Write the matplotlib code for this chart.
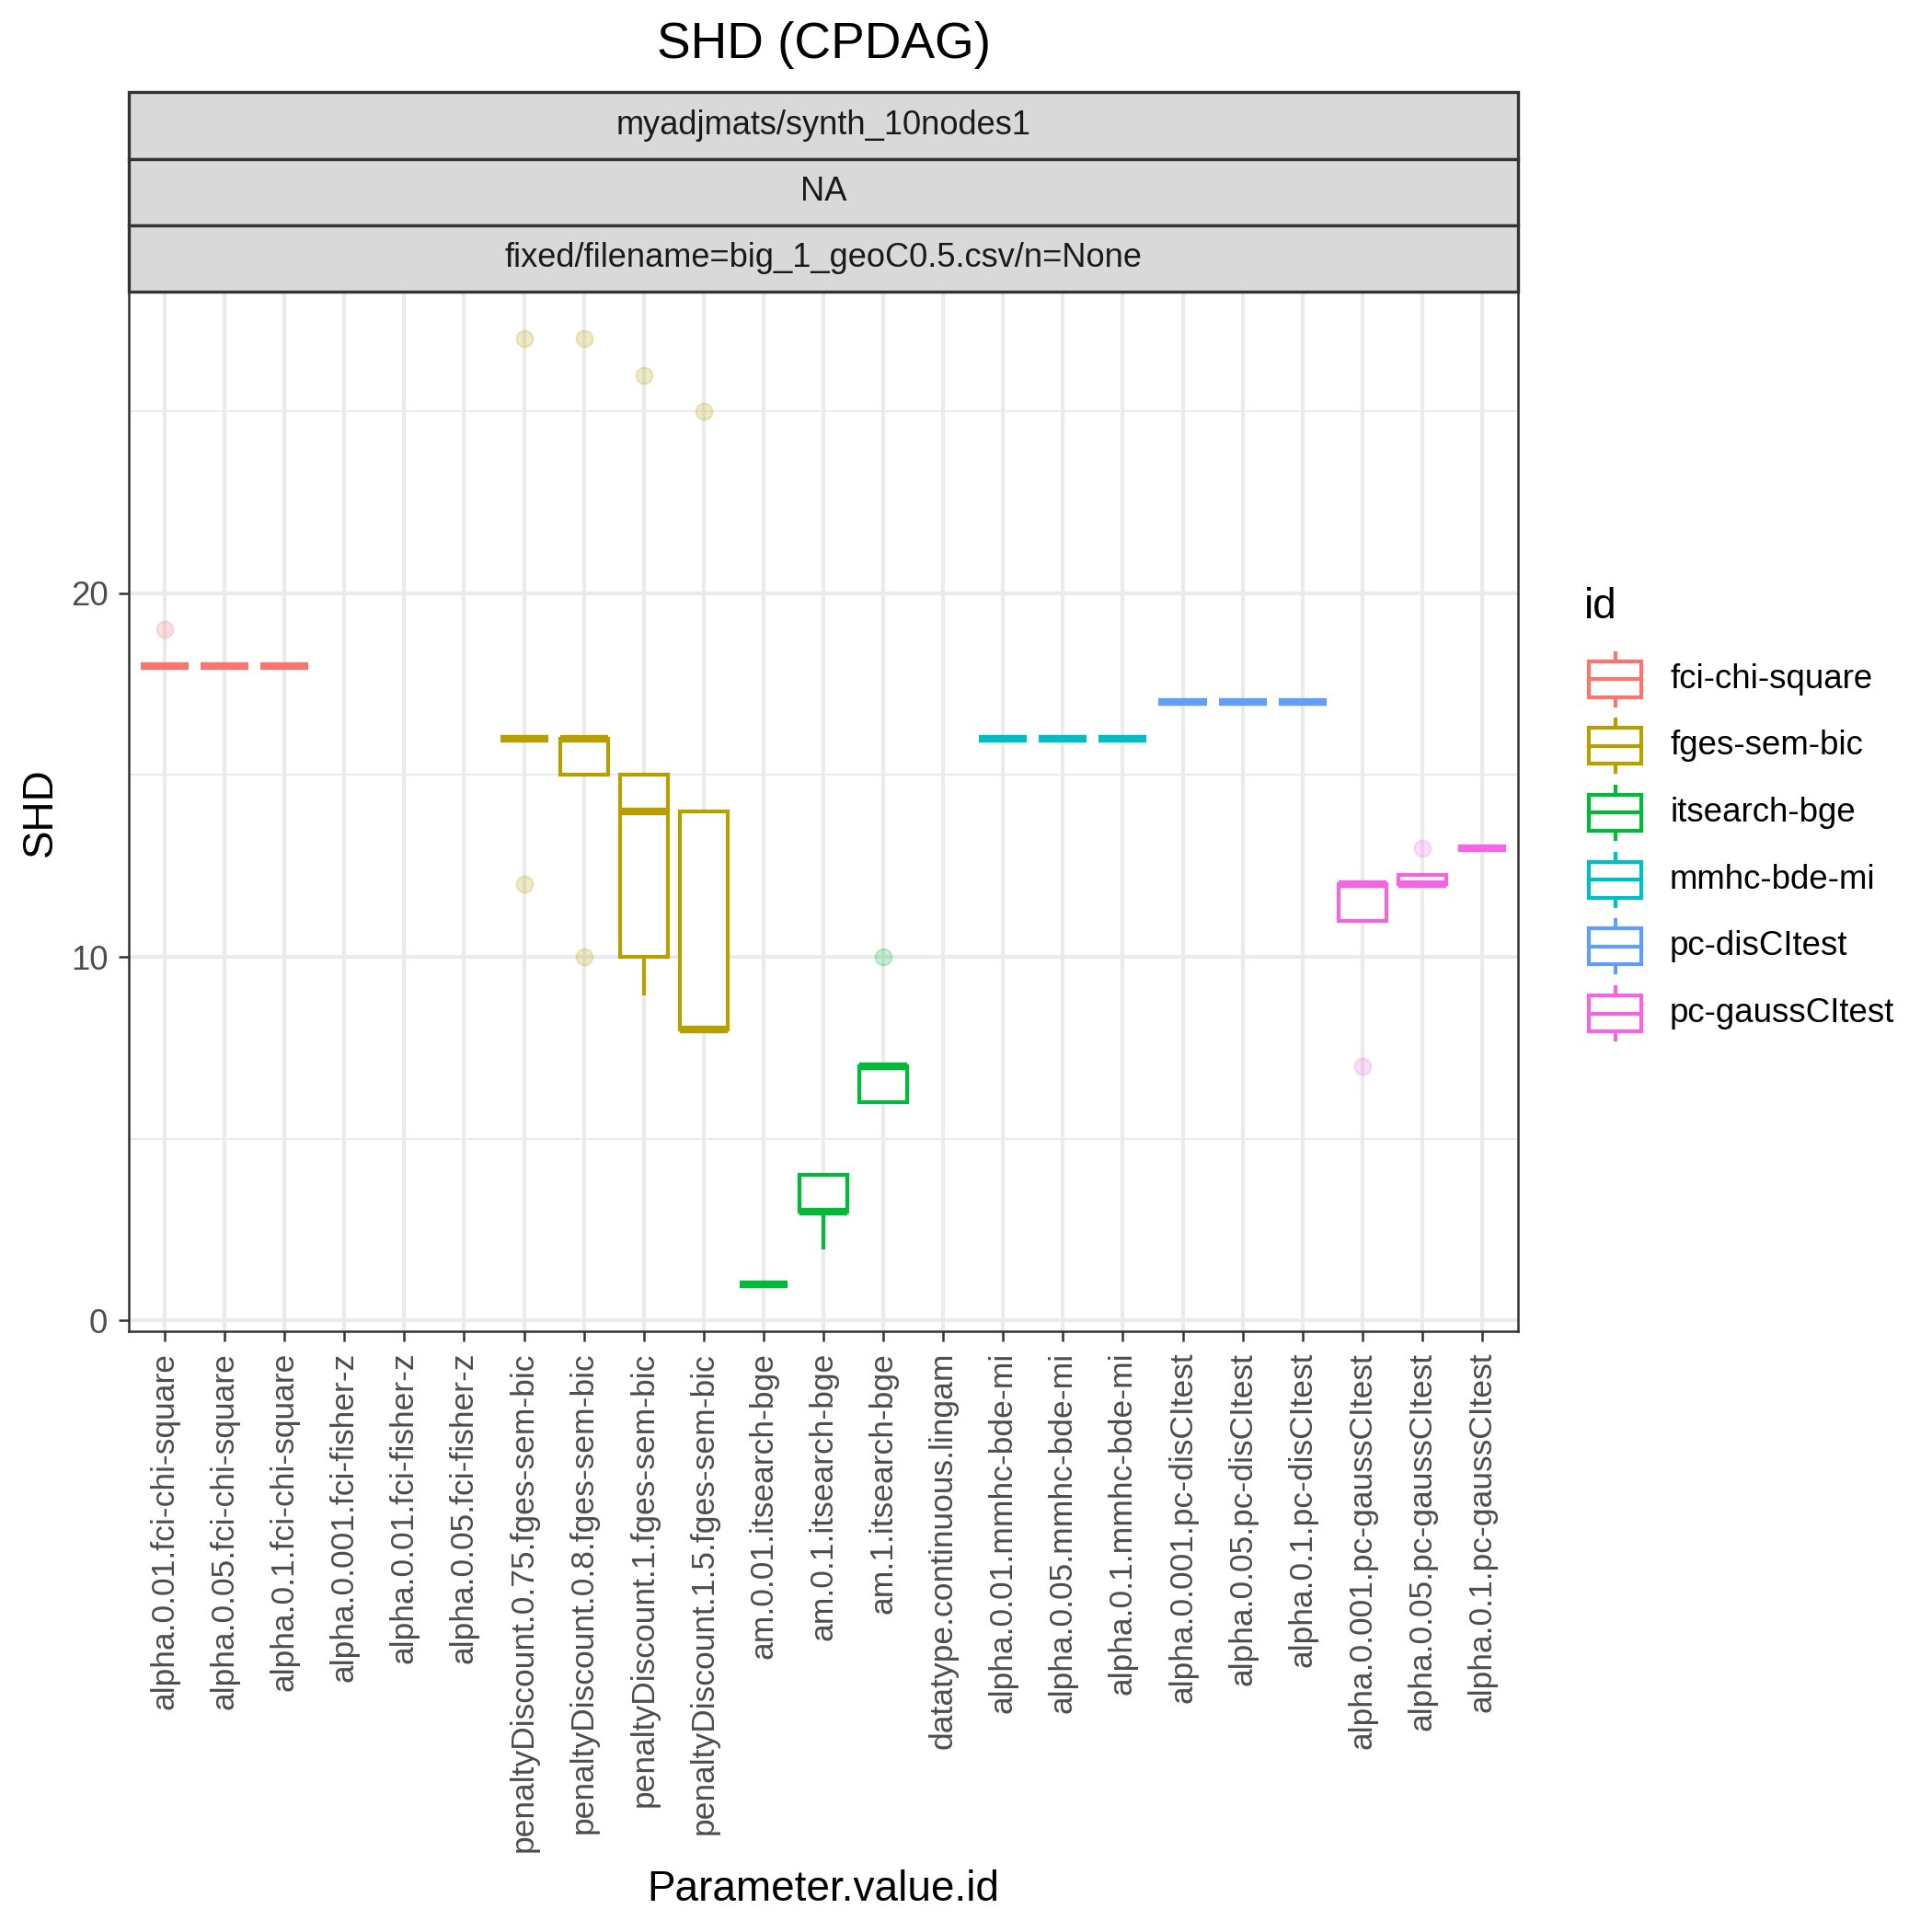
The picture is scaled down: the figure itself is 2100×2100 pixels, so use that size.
import matplotlib
matplotlib.use("Agg")
from matplotlib import pyplot as plt
from matplotlib.patches import Rectangle

plt.rcParams["font.family"] = ["Liberation Sans", "DejaVu Sans"]

# x categories (Parameter.value.id) and the algorithm id of each
categories = [
    "alpha.0.01.fci-chi-square", "alpha.0.05.fci-chi-square", "alpha.0.1.fci-chi-square",
    "alpha.0.001.fci-fisher-z", "alpha.0.01.fci-fisher-z", "alpha.0.05.fci-fisher-z",
    "penaltyDiscount.0.75.fges-sem-bic", "penaltyDiscount.0.8.fges-sem-bic",
    "penaltyDiscount.1.fges-sem-bic", "penaltyDiscount.1.5.fges-sem-bic",
    "am.0.01.itsearch-bge", "am.0.1.itsearch-bge", "am.1.itsearch-bge",
    "datatype.continuous.lingam",
    "alpha.0.01.mmhc-bde-mi", "alpha.0.05.mmhc-bde-mi", "alpha.0.1.mmhc-bde-mi",
    "alpha.0.001.pc-disCItest", "alpha.0.05.pc-disCItest", "alpha.0.1.pc-disCItest",
    "alpha.0.001.pc-gaussCItest", "alpha.0.05.pc-gaussCItest", "alpha.0.1.pc-gaussCItest",
]
group = [
    "fci-chi-square", "fci-chi-square", "fci-chi-square",
    None, None, None,
    "fges-sem-bic", "fges-sem-bic", "fges-sem-bic", "fges-sem-bic",
    "itsearch-bge", "itsearch-bge", "itsearch-bge",
    None,
    "mmhc-bde-mi", "mmhc-bde-mi", "mmhc-bde-mi",
    "pc-disCItest", "pc-disCItest", "pc-disCItest",
    "pc-gaussCItest", "pc-gaussCItest", "pc-gaussCItest",
]

# box statistics (None = no data)
q1 = [18, 18, 18, None, None, None, 16, 15, 10, 8, 1, 3, 6, None,
      16, 16, 16, 17, 17, 17, 11, 12, 13]
med = [18, 18, 18, None, None, None, 16, 16, 14, 8, 1, 3, 7, None,
       16, 16, 16, 17, 17, 17, 12, 12, 13]
q3 = [18, 18, 18, None, None, None, 16, 16, 15, 14, 1, 4, 7, None,
      16, 16, 16, 17, 17, 17, 12, 12.25, 13]
whislo = [18, 18, 18, None, None, None, 16, 15, 9, 8, 1, 2, 6, None,
          16, 16, 16, 17, 17, 17, 11, 12, 13]
whishi = [18, 18, 18, None, None, None, 16, 16, 15, 14, 1, 4, 7, None,
          16, 16, 16, 17, 17, 17, 12, 12.25, 13]
fliers = [[19], [], [], [], [], [], [27, 12], [27, 10], [26], [25], [], [], [10], [],
          [], [], [], [], [], [], [7], [13], []]

legend_ids = ["fci-chi-square", "fges-sem-bic", "itsearch-bge",
              "mmhc-bde-mi", "pc-disCItest", "pc-gaussCItest"]
legend_colors = ["#F8766D", "#B79F00", "#00BA38", "#00BFC4", "#619CFF", "#F564E3"]
colors = dict(zip(legend_ids, legend_colors))

W = 2100.0
fig = plt.figure(figsize=(7, 7), dpi=300)

ax = fig.add_axes([140 / W, 1 - 1447 / W, 1510 / W, 1130 / W])
ax.set_facecolor("white")
ax.set_axisbelow(True)

for i in range(len(categories)):
    if med[i] is None:
        continue
    c = colors[group[i]]
    st = dict(med=med[i], q1=q1[i], q3=q3[i], whislo=whislo[i], whishi=whishi[i],
              fliers=fliers[i])
    ax.bxp([st], positions=[i], widths=0.8, showcaps=False, patch_artist=True,
           boxprops=dict(facecolor="white", edgecolor=c, linewidth=1.0),
           medianprops=dict(color=c, linewidth=2.0, solid_capstyle="butt"),
           whiskerprops=dict(color=c, linewidth=1.0),
           flierprops=dict(marker="o", markerfacecolor=c, markeredgecolor=c,
                           markersize=4.3, alpha=0.22, markeredgewidth=0.5))

# y range: data range with 5% expansion, like ggplot
all_vals = [v for v in whislo + whishi if v is not None] + [v for f in fliers for v in f]
lo, hi = min(all_vals), max(all_vals)
pad = 0.05 * (hi - lo)
ax.set_ylim(lo - pad, hi + pad)
ax.set_xlim(-0.6, len(categories) - 1 + 0.6)

ax.set_yticks([0, 10, 20])
ax.set_yticks([5, 15, 25], minor=True)
ax.set_xticks(range(len(categories)))
ax.set_xticklabels(categories, rotation=90, ha="center", va="top")
ax.grid(which="major", color="#EBEBEB", linewidth=1.0)
ax.grid(which="minor", axis="y", color="#EBEBEB", linewidth=0.5)
ax.tick_params(which="major", length=2.75, width=0.6, color="#333333",
               labelcolor="#4D4D4D", labelsize=8.5, pad=2.7)
ax.tick_params(axis="y", labelsize=8.8)
ax.tick_params(which="minor", length=0)
for s in ax.spines.values():
    s.set_color("#333333")
    s.set_linewidth(0.6)

# overlay in pixel coordinates for title, strips, labels and legend
ov = fig.add_axes([0, 0, 1, 1], facecolor="none")
ov.set_xlim(0, W)
ov.set_ylim(W, 0)
ov.axis("off")

ov.text(895, 63, "SHD (CPDAG)", ha="center", va="baseline", fontsize=13.2, color="black")
ov.text(895, 2066, "Parameter.value.id", ha="center", va="baseline", fontsize=11, color="black")
ov.text(44, 883, "SHD", ha="center", va="center", rotation=90, fontsize=11, color="black")

strip_texts = ["myadjmats/synth_10nodes1", "NA", "fixed/filename=big_1_geoC0.5.csv/n=None"]
strip_edges = [100, 172.5, 245, 317]
for k, txt in enumerate(strip_texts):
    y0, y1 = strip_edges[k], strip_edges[k + 1]
    ov.add_patch(Rectangle((140, y0), 1510, y1 - y0, facecolor="#D9D9D9",
                           edgecolor="#333333", linewidth=0.8))
    ov.text(895, (y0 + y1) / 2, txt, ha="center", va="center", fontsize=8.7, color="#1A1A1A")

# legend
ov.text(1722, 672, "id", ha="left", va="baseline", fontsize=11, color="black")
for k, (name, c) in enumerate(zip(legend_ids, legend_colors)):
    yc = 738 + 72.7 * k
    ov.add_patch(Rectangle((1727, yc - 19.5), 57, 39, facecolor="white", edgecolor=c, linewidth=1.0))
    ov.plot([1727, 1784], [yc, yc], color=c, linewidth=1.0)
    ov.plot([1755.5, 1755.5], [yc - 19.5, yc - 28.5], color=c, linewidth=1.0)
    ov.plot([1755.5, 1755.5], [yc + 19.5, yc + 28.5], color=c, linewidth=1.0)
    ov.text(1815, yc, name, ha="left", va="center", fontsize=8.8, color="black")

fig.savefig("out.png", dpi=300, facecolor="white")
